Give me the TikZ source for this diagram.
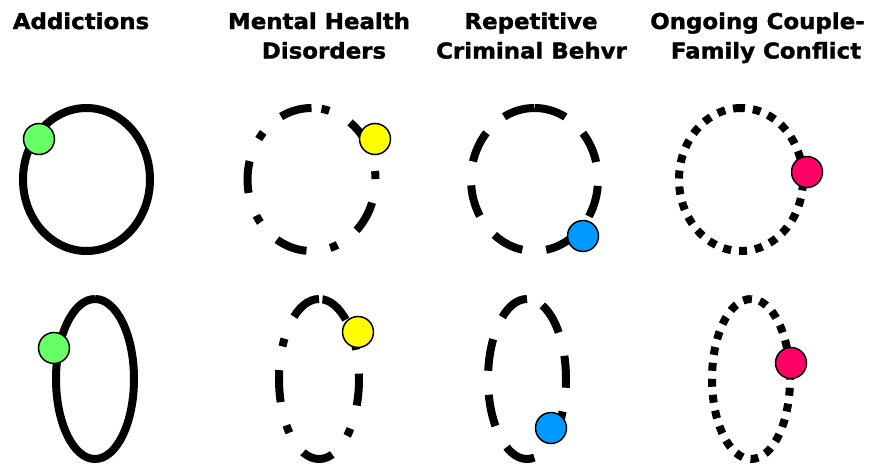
\documentclass[tikz,border=0pt]{standalone}
\usepackage{fontspec}
\newfontfamily\titlefont{DejaVu Sans}[FakeStretch=1.05,FakeBold=1.5]
\definecolor{dotgreen}{HTML}{66FF66}
\definecolor{dotyellow}{HTML}{FFFF00}
\definecolor{dotblue}{HTML}{0099FF}
\definecolor{dotred}{HTML}{FF0066}
\tikzset{
  ring/.style={line width=8pt, draw=black},
  dashring/.style={ring, dash pattern=on 32pt off 24pt},
  dashdotring/.style={ring, dash pattern=on 32pt off 24pt on 8pt off 24pt},
  dotring/.style={ring, dash pattern=on 8pt off 8pt},
  marker/.style={circle, draw=black, line width=1.5pt, minimum size=31pt, inner sep=0pt},
  title/.style={font=\titlefont\bfseries\fontsize{21.8}{26}\selectfont, anchor=base, inner sep=0pt}
}
\begin{document}
\begin{tikzpicture}[x=1pt,y=1pt]
\useasboundingbox (0,0) rectangle (875,-466);
% titles
\node[title] (tA) at (81,-29) {Addictions};
\node[title] (tM1) at (319,-29) {Mental Health};
\node[title] (tM2) at (324,-58.5) {Disorders};
\node[title] (tR1) at (531,-29) {Repetitive};
\node[title] (tR2) at (531.5,-58.5) {Criminal Behvr};
\node[title] (tO1) at (757.5,-29) {Ongoing Couple-};
\node[title] (tO2) at (766,-58.5) {Family Conflict};
% top row
\draw[ring] (86.5,-108) arc[start angle=90,end angle=450,x radius=63.5,y radius=71.5];
\draw[dashdotring] (311.5,-108) arc[start angle=90,end angle=450,x radius=64,y radius=71.5];
\draw[dashring] (534.5,-108) arc[start angle=90,end angle=450,x radius=63.5,y radius=71.5];
\draw[dotring] (741,-108) arc[start angle=90,end angle=450,x radius=62,y radius=71.5];
% bottom row
\draw[ring] (95,-299) arc[start angle=90,end angle=450,x radius=39,y radius=80];
\draw[dashdotring] (319,-299) arc[start angle=90,end angle=450,x radius=40,y radius=80];
\draw[dashring] (527,-299) arc[start angle=90,end angle=450,x radius=39,y radius=80];
\draw[dotring] (751,-299) arc[start angle=90,end angle=450,x radius=39,y radius=80];
% markers
\node[marker, fill=dotgreen] (g1) at (39,-139) {};
\node[marker, fill=dotyellow] (y1) at (375,-139) {};
\node[marker, fill=dotblue] (b1) at (583,-236) {};
\node[marker, fill=dotred] (r1) at (807,-172) {};
\node[marker, fill=dotgreen] (g2) at (54,-348) {};
\node[marker, fill=dotyellow] (y2) at (358,-332) {};
\node[marker, fill=dotblue] (b2) at (551,-428) {};
\node[marker, fill=dotred] (r2) at (791,-363) {};
\end{tikzpicture}
\end{document}
